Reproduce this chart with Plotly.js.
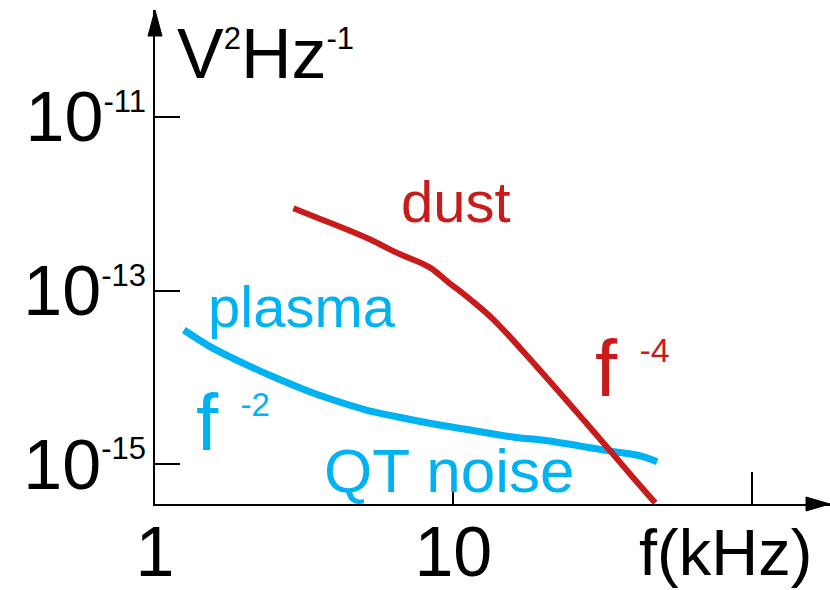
<!DOCTYPE html>
<html>
<head>
<meta charset="utf-8">
<script src="https://cdn.plot.ly/plotly-3.0.1.min.js"></script>
<style>html,body{margin:0;padding:0;background:#fff;}#chart{width:830px;height:590px;}</style>
</head>
<body>
<div id="chart"></div>
<script>
// ---- data ----
var dustFreq = [2.91, 3.43, 4.44, 5.31, 6.52, 8.30, 9.58, 11.46, 13.68, 18.18, 27.33, 34.49, 40.14, 47.5];
var dustPSD  = [8.83e-13, 7.07e-13, 4.97e-13, 3.81e-13, 2.68e-13, 1.86e-13, 1.26e-13, 7.77e-14, 4.57e-14, 1.585e-14, 3.23e-15, 1.28e-15, 6.96e-16, 3.6e-16];

var noiseFreq = [1.25, 1.53, 1.98, 2.56, 3.30, 4.06, 5.04, 6.52, 8.43, 10.88, 13.36, 15.98, 20.67, 26.70, 34.49, 42.36, 48.16];
var noisePSD  = [3.51e-14, 2.26e-14, 1.45e-14, 9.76e-15, 6.84e-15, 5.35e-15, 4.27e-15, 3.50e-15, 2.95e-15, 2.55e-15, 2.26e-15, 2.05e-15, 1.87e-15, 1.62e-15, 1.40e-15, 1.25e-15, 1.07e-15];

var xTickVals = [1, 10, 100];
var xTickText = ['1', '10', ''];
var yTickVals = [1e-11, 1e-13, 1e-15];
var yTickExp  = ['-11', '-13', '-15'];

var RED = '#c81b1b';
var BLUE = '#00b2f2';
var FONT = 'Liberation Sans, Arial, Helvetica, sans-serif';

// ---- layout geometry (pixels) ----
var W = 830, H = 590, L = 155, R = 0, T = 10, B = 86;
var PW = W - L - R, PH = H - T - B;
function px(x) { return (x - L) / PW; }
function py(y) { return (H - B - y) / PH; }

function supSpan(t, size) { return '<sup><span style="font-size:' + size + 'px">' + t + '</span></sup>'; }

var yTickText = yTickExp.map(function (e) { return '10' + supSpan(e, 31); });

var traces = [
  { x: noiseFreq, y: noisePSD, type: 'scatter', mode: 'lines', name: 'plasma / QT noise',
    line: { color: BLUE, width: 7, shape: 'spline', smoothing: 1 }, cliponaxis: false, hoverinfo: 'skip' },
  { x: dustFreq, y: dustPSD, type: 'scatter', mode: 'lines', name: 'dust',
    line: { color: RED, width: 6, shape: 'spline', smoothing: 1 }, cliponaxis: false, hoverinfo: 'skip' }
];

function ann(text, xpx, ypx, size, color) {
  return { text: text, xref: 'paper', yref: 'paper', x: px(xpx), y: py(ypx),
    xanchor: 'left', yanchor: 'middle', showarrow: false,
    font: { family: FONT, size: size, color: color } };
}

var layout = {
  width: W, height: H,
  margin: { l: L, r: R, t: T, b: B, pad: 0 },
  paper_bgcolor: '#ffffff', plot_bgcolor: '#ffffff',
  showlegend: false,
  font: { family: FONT, color: '#000' },
  xaxis: {
    type: 'log', range: [0, 2.2624], showgrid: false, zeroline: false,
    showline: true, linecolor: '#000', linewidth: 2,
    ticks: 'inside', ticklen: 32, tickwidth: 2, tickcolor: '#000',
    tickmode: 'array', tickvals: xTickVals, ticktext: xTickText,
    ticklabelstandoff: -14,
    tickfont: { family: FONT, size: 70, color: '#000' }
  },
  yaxis: {
    type: 'log', range: [-15.457, -9.772], showgrid: false, zeroline: false,
    showline: true, linecolor: '#000', linewidth: 2,
    ticks: 'inside', ticklen: 25, tickwidth: 2, tickcolor: '#000',
    tickmode: 'array', tickvals: yTickVals, ticktext: yTickText,
    ticklabelstandoff: -7,
    tickfont: { family: FONT, size: 70, color: '#000' }
  },
  shapes: [
    { type: 'path', xref: 'paper', yref: 'paper', layer: 'above',
      path: 'M 1 0 L ' + px(806) + ' ' + py(497) + ' L ' + px(806) + ' ' + py(511) + ' Z',
      fillcolor: '#000', line: { color: '#000', width: 1 } },
    { type: 'path', xref: 'paper', yref: 'paper', layer: 'above',
      path: 'M 0 1 L ' + px(148) + ' ' + py(36) + ' L ' + px(162) + ' ' + py(36) + ' Z',
      fillcolor: '#000', line: { color: '#000', width: 1 } }
  ],
  annotations: [
    ann('V' + supSpan('2', 31) + 'Hz' + supSpan('-1', 31), 175, 53.5, 70, '#000'),
    ann('dust', 399, 201.7, 58, RED),
    ann('plasma', 206, 306.7, 58, BLUE),
    ann('f ' + supSpan('-2', 33), 194, 422, 80, BLUE),
    ann('f ' + supSpan('-4', 34), 593, 369, 80, RED),
    ann('QT noise', 321.5, 470, 62, BLUE),
    ann('f(kHz)', 637, 552, 65, '#000')
  ]
};

Plotly.newPlot('chart', traces, layout, { staticPlot: true, displayModeBar: false });
</script>
</body>
</html>
